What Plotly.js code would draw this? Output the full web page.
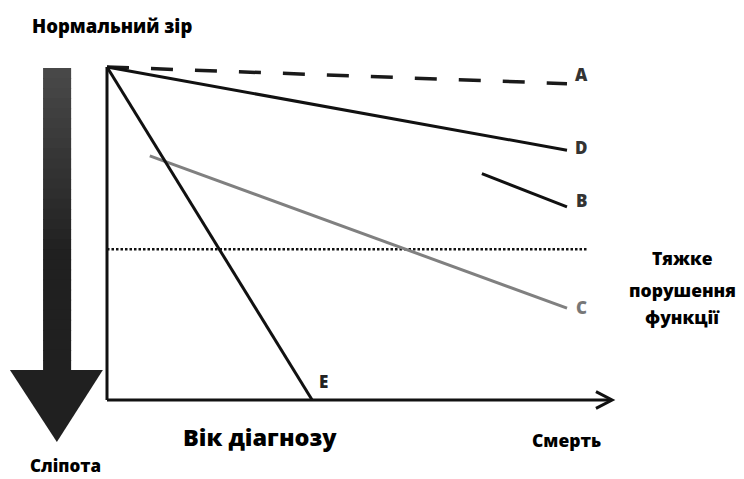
<!DOCTYPE html>
<html><head><meta charset="utf-8">
<script src="https://cdn.plot.ly/plotly-3.0.1.min.js"></script>
<style>html,body{margin:0;padding:0;background:#fff}#chart{width:744px;height:479px}</style>
</head><body><div id="chart"></div>
<script>
// Data (time: 0 = diagnosis, 100 = death; vision: 100 = normal, 0 = blindness)
const timeA = [0, 100];      const visionA = [100, 95];
const timeD = [0, 100];      const visionD = [100, 75];
const timeB = [81.5, 100];   const visionB = [68, 58];
const timeC = [9.3, 100];    const visionC = [73.3, 27.6];
const timeE = [0, 44.6];     const visionE = [100, 0];
const thresholdTime = [0, 104.3];
const thresholdVision = [45.3, 45.3];
const seriesLabels = ['A', 'D', 'B', 'C', 'E'];
const thresholdLabel = ['Тяжке', 'порушення', 'функції'];

const FONT = '"Open Sans", "Noto Sans", sans-serif';
const W = 800;
const BLACK = '#111111';
const GRAY = '#808080';

function line(x, y, color, width, dash) {
  return {x: x, y: y, type: 'scatter', mode: 'lines', hoverinfo: 'skip',
    line: {color: color, width: width, dash: dash || 'solid'}};
}

const traces = [
  line(thresholdTime, thresholdVision, BLACK, 2.5, '2.5px,2px'),
  line(timeA, visionA, '#1a1a1a', 3.5, '22px,22px'),
  line(timeD, visionD, BLACK, 3),
  line(timeB, visionB, BLACK, 3),
  line(timeC, visionC, GRAY, 3),
  line(timeE, visionE, BLACK, 3)
];

const ends = [
  [timeA[1], visionA[1], '#333', 2.6],
  [timeD[1], visionD[1], '#333', 0.9],
  [timeB[1], visionB[1], '#333', 2.0],
  [timeC[1], visionC[1], '#777', 0.2],
];
const annotations = [];
ends.forEach((e, i) => {
  annotations.push({x: e[0] + 3.1, y: e[1] + e[3], text: seriesLabels[i], showarrow: false,
    xanchor: 'center', yanchor: 'middle', font: {family: FONT, size: 17, color: e[2], weight: W}});
});
annotations.push({x: timeE[1] + 2.4, y: 5.7, text: seriesLabels[4], showarrow: false,
  xanchor: 'center', yanchor: 'middle', font: {family: FONT, size: 17, color: '#222', weight: W}});

function txt(x, y, t, size) {
  return {x: x, y: y, text: t, showarrow: false, xanchor: 'center', yanchor: 'middle',
    font: {family: FONT, size: size, color: '#000', weight: W}};
}
annotations.push(txt(1.1, 112.6, 'Нормальний зір', 18.5));
annotations.push(txt(-9.1, -19.8, 'Сліпота', 17));
annotations.push(txt(33.2, -11.1, 'Вік діагнозу', 23.5));
annotations.push(txt(99.8, -12, 'Смерть', 17.5));
[42.6, 33.0, 24.8].forEach((y, i) => annotations.push(txt(125.2, y, thresholdLabel[i], 17.5)));

const shapes = [
  // y axis
  {type: 'line', x0: 0, x1: 0, y0: 0, y1: 100, line: {color: BLACK, width: 3}},
  // x axis
  {type: 'line', x0: 0, x1: 109.5, y0: 0, y1: 0, line: {color: BLACK, width: 3}},
  {type: 'path', path: 'M 106.3 2.5 L 109.8 0 L 106.3 -2.5', line: {color: BLACK, width: 3}}
];
// big downward arrow with a light-to-dark shading (decoration)
const shaftTop = 99.7, shaftBottom = 9, steps = 30;
for (let i = 0; i < steps; i++) {
  const t = i / (steps - 1);
  const v = Math.round(0x48 - (0x48 - 0x20) * Math.min(1, t * 1.6));
  const c = 'rgb(' + v + ',' + v + ',' + v + ')';
  const y1 = shaftTop - (shaftTop - shaftBottom) * i / steps;
  const y0 = shaftTop - (shaftTop - shaftBottom) * (i + 1) / steps - 0.3;
  shapes.push({type: 'rect', x0: -13.9, x1: -7.8, y0: Math.max(y0, shaftBottom), y1: y1,
    fillcolor: c, line: {width: 0}});
}
shapes.push({type: 'path', path: 'M -0.9 9 L -10.9 -12.6 L -21.1 9 Z',
  fillcolor: '#202020', line: {width: 0}});

const layout = {
  width: 744, height: 479,
  margin: {l: 0, r: 0, t: 0, b: 0},
  paper_bgcolor: '#fff', plot_bgcolor: '#fff',
  showlegend: false,
  xaxis: {range: [-23.26, 138.48], visible: false, fixedrange: true},
  yaxis: {range: [-23.72, 120.12], visible: false, fixedrange: true},
  shapes: shapes,
  annotations: annotations
};
Plotly.newPlot('chart', traces, layout, {displayModeBar: false, staticPlot: true});
</script></body></html>
